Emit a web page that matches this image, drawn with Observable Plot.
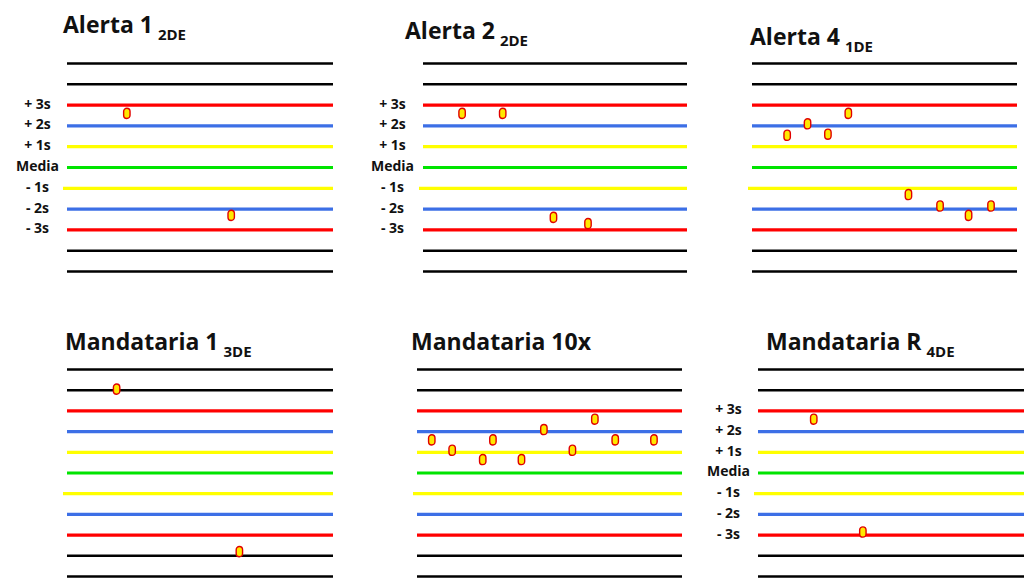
<!DOCTYPE html>
<html>
<head>
<meta charset="utf-8">
<script src="https://cdn.jsdelivr.net/npm/d3@7"></script>
<script src="https://cdn.jsdelivr.net/npm/@observablehq/plot@0.6"></script>
<style>
  html, body { margin: 0; padding: 0; background: #fff; }
  #chart { position: relative; width: 1024px; height: 579px; overflow: hidden; font-family: "Open Sans", sans-serif; }
  .title { position: absolute; font-weight: 700; font-size: 23px; line-height: 23px; color: #111; white-space: nowrap; }
  .title .sub { font-size: 15px; position: relative; top: 7px; margin-left: 5px; }
  .panel { position: absolute; }
  .panel svg { overflow: visible; }
</style>
</head>
<body>
<div id="chart"></div>
<script>
// ---- Data ----
const levels = [5, 4, 3, 2, 1, 0, -1, -2, -3, -4, -5];
const levelColors = ["#000000", "#000000", "#ff0000", "#3c6fe6", "#ffff00", "#00e400", "#ffff00", "#3c6fe6", "#ff0000", "#000000", "#000000"];
const sdLabels = ["+ 3s", "+ 2s", "+ 1s", "Media", "- 1s", "- 2s", "- 3s"];
const sdLabelValues = [3, 2, 1, 0, -1, -2, -3];

const panelTitles = ["Alerta 1", "Alerta 2", "Alerta 4", "Mandataria 1", "Mandataria 10x", "Mandataria R"];
const panelSubs = ["2DE", "2DE", "1DE", "3DE", "", "4DE"];
const panelShowsLabels = [true, true, false, false, false, true];

// control runs (position along the run axis) and values (in SD units)
const alerta1Runs = [2.9, 8.0];
const alerta1Values = [2.6, -2.3];
const alerta2Runs = [1.9, 3.9, 6.4, 8.1];
const alerta2Values = [2.6, 2.6, -2.4, -2.7];
const alerta4Runs = [1.7, 2.7, 3.7, 4.7, 7.65, 9.2, 10.6, 11.7];
const alerta4Values = [1.55, 2.1, 1.6, 2.6, -1.3, -1.85, -2.3, -1.85];
const mand1Runs = [2.4, 8.4];
const mand1Values = [4.05, -3.8];
const mand10xRuns = [0.7, 1.7, 3.2, 3.7, 5.1, 6.2, 7.6, 8.7, 9.7, 11.6];
const mand10xValues = [1.6, 1.1, 0.65, 1.6, 0.65, 2.1, 1.1, 2.6, 1.6, 1.6];
const mandRRuns = [2.7, 5.1];
const mandRValues = [2.6, -2.85];

const panelRuns = [alerta1Runs, alerta2Runs, alerta4Runs, mand1Runs, mand10xRuns, mandRRuns];
const panelValues = [alerta1Values, alerta2Values, alerta4Values, mand1Values, mand10xValues, mandRValues];

// ---- Layout (pixels) ----
const layout = [
  {left: 0,   top: 50,  ml: 67, pw: 266, mr: 5, h: 208, mb: 10, labelDx: -30, tx: 63,  tb: 33},
  {left: 350, top: 50,  ml: 73, pw: 264, mr: 5, h: 208, mb: 10, labelDx: -31, tx: 405, tb: 39},
  {left: 700, top: 50,  ml: 52, pw: 265, mr: 7, h: 208, mb: 10, labelDx: -30, tx: 750, tb: 45},
  {left: 0,   top: 356, ml: 67, pw: 266, mr: 5, h: 207, mb: 3,  labelDx: -30, tx: 65,  tb: 350},
  {left: 350, top: 356, ml: 67, pw: 265, mr: 5, h: 207, mb: 3,  labelDx: -30, tx: 411, tb: 350},
  {left: 700, top: 356, ml: 58, pw: 266, mr: 0, h: 207, mb: 3,  labelDx: -30, tx: 766, tb: 350}
];

const capsule = {
  draw(ctx) {
    const w = 3.2, h = 1.9;
    ctx.moveTo(-w, -h);
    ctx.arc(0, -h, w, Math.PI, 0);
    ctx.lineTo(w, h);
    ctx.arc(0, h, w, 0, Math.PI);
    ctx.closePath();
  }
};

const lineData = levels.map((v, i) => ({v, color: levelColors[i], black: Math.abs(v) > 3}));
const labelData = sdLabels.map((t, i) => ({t, v: sdLabelValues[i]}));

const chart = document.getElementById("chart");

panelTitles.forEach((title, i) => {
  const L = layout[i];
  const t = document.createElement("div");
  t.className = "title";
  t.style.left = L.tx + "px";
  t.style.top = (L.tb - 0.888 * 23) + "px";
  t.textContent = title;
  if (panelSubs[i]) {
    const s = document.createElement("span");
    s.className = "sub";
    s.textContent = panelSubs[i];
    t.appendChild(s);
  }
  chart.appendChild(t);

  const pts = panelRuns[i].map((r, k) => ({run: r, value: panelValues[i][k]}));
  const marks = [
    Plot.ruleY(lineData.filter(d => d.v !== -1), {y: "v", stroke: "color", strokeWidth: d => d.black ? 2.6 : 3.2}),
    Plot.ruleY(lineData.filter(d => d.v === -1), {y: "v", stroke: "color", strokeWidth: 3.2, insetLeft: -4}),
    Plot.dot(pts, {x: "run", y: "value", symbol: capsule, fill: "#ffe800", stroke: "#e00000", strokeWidth: 1.4})
  ];
  if (panelShowsLabels[i]) {
    marks.push(Plot.text(labelData, {y: "v", text: "t", frameAnchor: "left", dx: L.labelDx, dy: -1, textAnchor: "middle", fontSize: 14, fontWeight: "bold", fill: "#111"}));
  }
  const svg = Plot.plot({
    width: L.ml + L.pw + L.mr,
    height: 13 + L.h + L.mb,
    marginLeft: L.ml,
    marginRight: L.mr,
    marginTop: 13,
    marginBottom: L.mb,
    x: {domain: [0, 13], axis: null},
    y: {domain: [-5, 5], axis: null},
    style: {fontFamily: "'Open Sans', sans-serif", background: "transparent", overflow: "visible"},
    marks
  });
  const wrap = document.createElement("div");
  wrap.className = "panel";
  wrap.style.left = L.left + "px";
  wrap.style.top = L.top + "px";
  wrap.appendChild(svg);
  chart.appendChild(wrap);
});
</script>
</body>
</html>
